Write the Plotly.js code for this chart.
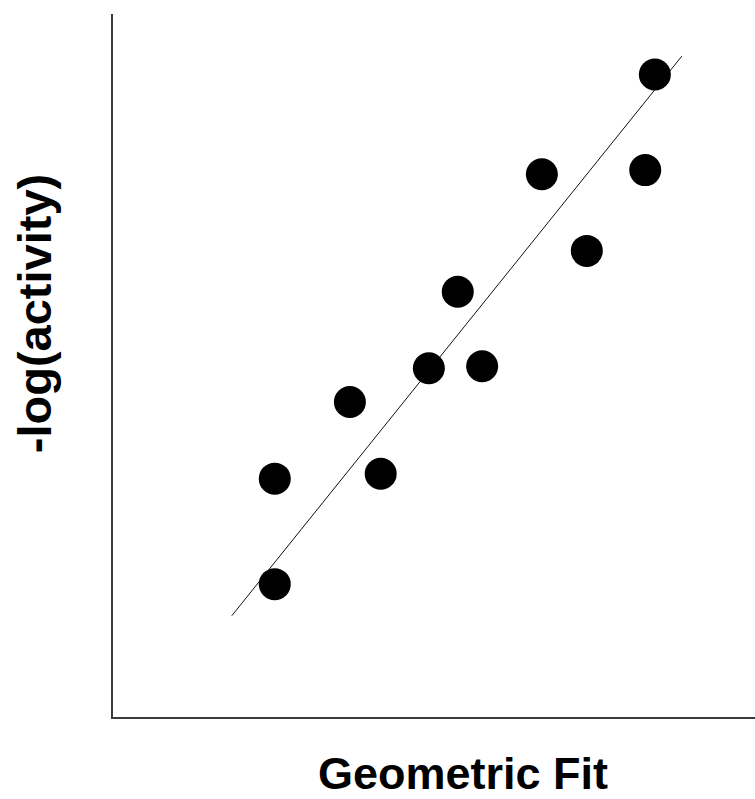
<!DOCTYPE html>
<html>
<head>
<meta charset="utf-8">
<script src="https://cdn.plot.ly/plotly-3.0.1.min.js"></script>
<style>html,body{margin:0;padding:0;background:#fff;}#chart{width:755px;height:799px;}</style>
</head>
<body>
<div id="chart"></div>
<script>
// Observed points (arbitrary units, no tick labels shown)
var geometricFit = [25.2, 25.2, 36.9, 41.7, 49.2, 53.7, 57.5, 66.8, 73.8, 82.9, 84.4];
var negLogActivity = [18.9, 33.9, 44.8, 34.6, 49.6, 60.5, 49.9, 77.2, 66.3, 77.8, 91.4];
// Regression line endpoints
var fitX = [18.5, 88.6];
var fitY = [14.4, 94.0];

var xTitle = "Geometric Fit";
var yTitle = "-log(activity)";

var fontFam = "Arial, 'Liberation Sans', sans-serif";

var traces = [
  {
    x: fitX, y: fitY, mode: "lines", type: "scatter",
    line: {color: "#111", width: 1}, hoverinfo: "skip", showlegend: false
  },
  {
    x: geometricFit, y: negLogActivity, mode: "markers", type: "scatter",
    marker: {color: "#000", size: 32}, showlegend: false
  }
];

var axisCommon = {
  showline: true, linecolor: "#3a3a3a", linewidth: 2,
  showgrid: false, zeroline: false, ticks: "", showticklabels: false,
  range: [0, 100], fixedrange: true
};

var layout = {
  width: 755, height: 799,
  margin: {l: 113, r: 0, t: 14, b: 82},
  paper_bgcolor: "#fff", plot_bgcolor: "#fff",
  xaxis: Object.assign({}, axisCommon),
  yaxis: Object.assign({}, axisCommon),
  showlegend: false,
  annotations: [
    {
      text: "<b>" + xTitle + "</b>", xref: "paper", yref: "paper",
      x: 0.545, y: -0.0797, xanchor: "center", yanchor: "middle",
      showarrow: false, font: {family: fontFam, size: 45, color: "#000"}
    },
    {
      text: "<b>" + yTitle + "</b>", xref: "paper", yref: "paper",
      x: -0.123, y: 0.573, xanchor: "center", yanchor: "middle",
      textangle: -90,
      showarrow: false, font: {family: fontFam, size: 47, color: "#000"}
    }
  ]
};

Plotly.newPlot("chart", traces, layout, {displayModeBar: false, staticPlot: true});
</script>
</body>
</html>
